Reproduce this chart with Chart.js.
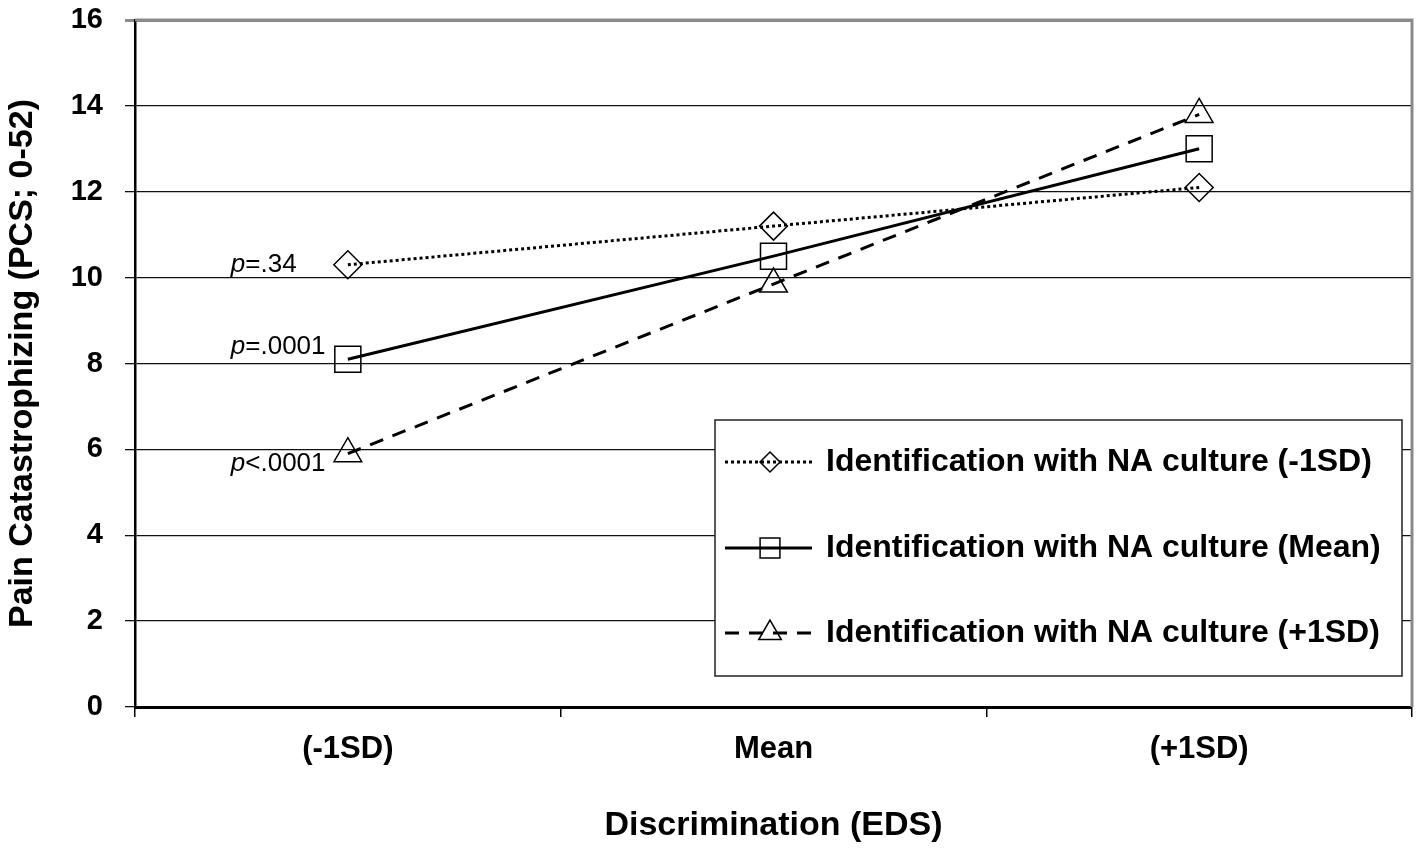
<!DOCTYPE html>
<html>
<head>
<meta charset="utf-8">
<script src="https://cdn.jsdelivr.net/npm/chart.js@4/dist/chart.umd.min.js"></script>
<style>
  html, body { margin: 0; padding: 0; background: #fff; overflow: hidden; }
  canvas { display: block; }
</style>
</head>
<body>
<canvas id="chart" width="1417" height="854"></canvas>
<script>
// values
const categories = ['(-1SD)', 'Mean', '(+1SD)'];
const seriesLabels = [
  'Identification with NA culture (-1SD)',
  'Identification with NA culture (Mean)',
  'Identification with NA culture (+1SD)'
];
const lowIdent = [10.3, 11.2, 12.1];
const meanIdent = [8.1, 10.5, 13.0];
const highIdent = [5.9, 9.85, 13.8];
const pValues = ['=.34', '=.0001', '<.0001'];
const yMin = 0, yMax = 16, yStep = 2;

const FONT = 'Arial, "Liberation Sans", sans-serif';

function drawMarker(ctx, style, x, y, r) {
  ctx.beginPath();
  if (style === 'rectRot') {
    ctx.moveTo(x - r, y); ctx.lineTo(x, y - r); ctx.lineTo(x + r, y); ctx.lineTo(x, y + r);
  } else if (style === 'rect') {
    const s = Math.SQRT1_2 * r;
    ctx.rect(x - s, y - s, 2 * s, 2 * s);
  } else {
    ctx.moveTo(x, y - r);
    ctx.lineTo(x + 0.866 * r, y + r / 2);
    ctx.lineTo(x - 0.866 * r, y + r / 2);
  }
  ctx.closePath();
  ctx.stroke();
}

// p-value notes next to the first point of each line
const pNotes = {
  id: 'pNotes',
  afterDatasetsDraw(chart) {
    const ctx = chart.ctx;
    const dy = [0, -12, 10];
    ctx.save();
    ctx.fillStyle = '#000';
    ctx.textBaseline = 'middle';
    ctx.textAlign = 'left';
    chart.data.datasets.forEach((ds, i) => {
      const pt = chart.getDatasetMeta(i).data[0];
      const x = pt.x - 117, y = pt.y + dy[i];
      ctx.font = 'italic 26px ' + FONT;
      ctx.fillText('p', x, y);
      const w = ctx.measureText('p').width;
      ctx.font = '26px ' + FONT;
      ctx.fillText(pValues[i], x + w, y);
    });
    ctx.restore();
  }
};

// frame on top/right + boxed legend inside the plot
const frameAndLegend = {
  id: 'frameAndLegend',
  beforeDatasetsDraw(chart) {
    const {ctx, chartArea: a} = chart;
    ctx.save();
    ctx.strokeStyle = '#8a8a8a';
    ctx.lineWidth = 3;
    ctx.beginPath();
    ctx.moveTo(a.left, a.top);
    ctx.lineTo(a.right, a.top);
    ctx.lineTo(a.right, a.bottom);
    ctx.stroke();
    ctx.restore();
  },
  afterDraw(chart) {
    const {ctx, chartArea: a} = chart;
    const bx = a.left + 580, by = a.top + 400, bw = 687, bh = 256;
    ctx.save();
    ctx.fillStyle = '#fff';
    ctx.fillRect(bx, by, bw, bh);
    ctx.strokeStyle = '#222';
    ctx.lineWidth = 1.5;
    ctx.strokeRect(bx, by, bw, bh);
    const rows = [42, 128, 213];
    const mSizes = [10, 14, 13];
    chart.data.datasets.forEach((ds, i) => {
      const y = by + rows[i];
      ctx.strokeStyle = '#000';
      ctx.lineWidth = 3;
      ctx.setLineDash(ds.borderDash || []);
      ctx.beginPath();
      ctx.moveTo(bx + 10, y);
      ctx.lineTo(bx + 97, y);
      ctx.stroke();
      ctx.setLineDash([]);
      ctx.lineWidth = 1.5;
      drawMarker(ctx, ds.pointStyle, bx + 55, y, mSizes[i]);
      ctx.fillStyle = '#000';
      ctx.font = 'bold 32px ' + FONT;
      ctx.textBaseline = 'middle';
      ctx.textAlign = 'left';
      ctx.fillText(ds.label, bx + 111, y);
    });
    ctx.restore();
  }
};

const makeSet = (label, data, dash, style, radius) => ({
  label: label,
  data: data,
  borderColor: '#000',
  borderWidth: 3,
  borderDash: dash,
  fill: false,
  tension: 0,
  pointStyle: style,
  pointRadius: radius,
  pointHoverRadius: radius,
  pointBorderWidth: 1.5,
  pointBorderColor: '#000',
  pointBackgroundColor: 'rgba(0,0,0,0)'
});

const noPad = (s) => { s.paddingTop = 0; s.paddingBottom = 0; s.paddingLeft = 0; s.paddingRight = 0; };

new Chart(document.getElementById('chart'), {
  type: 'line',
  data: {
    labels: categories,
    datasets: [
      makeSet(seriesLabels[0], lowIdent, [3, 3], 'rectRot', 14),
      makeSet(seriesLabels[1], meanIdent, [], 'rect', 18.4),
      makeSet(seriesLabels[2], highIdent, [14, 10], 'triangle', 16)
    ]
  },
  options: {
    responsive: false,
    animation: false,
    layout: { autoPadding: false, padding: { left: 0, top: 20, right: 5, bottom: 0 } },
    plugins: {
      legend: { display: false },
      tooltip: { enabled: false }
    },
    scales: {
      x: {
        offset: true,
        grid: {
          offset: true,
          drawOnChartArea: false,
          drawTicks: true,
          tickLength: 10,
          color: '#000',
          lineWidth: 1.5
        },
        border: { color: '#000', width: 3 },
        ticks: { color: '#000', font: { family: FONT, size: 31, weight: 'bold' }, padding: 14 },
        title: {
          display: true,
          text: 'Discrimination (EDS)',
          color: '#000',
          font: { family: FONT, size: 34, weight: 'bold' },
          padding: { top: 0, bottom: 8 }
        },
        afterFit: (s) => { s.height = 147; noPad(s); }
      },
      y: {
        min: yMin,
        max: yMax,
        grid: {
          color: (c) => (c.tick && c.tick.value === yMax ? '#8a8a8a' : '#111'),
          lineWidth: (c) => (c.tick && c.tick.value === yMax ? 3 : 1.3),
          tickLength: 10
        },
        border: { color: '#000', width: 2.5 },
        ticks: {
          stepSize: yStep,
          color: '#000',
          font: { family: FONT, size: 29, weight: 'bold' },
          padding: 22
        },
        title: {
          display: true,
          text: 'Pain Catastrophizing (PCS; 0-52)',
          color: '#000',
          font: { family: FONT, size: 34, weight: 'bold' },
          padding: { top: 2, bottom: 0 }
        },
        afterFit: (s) => { s.width = 135; noPad(s); }
      }
    }
  },
  plugins: [frameAndLegend, pNotes]
});
</script>
</body>
</html>
